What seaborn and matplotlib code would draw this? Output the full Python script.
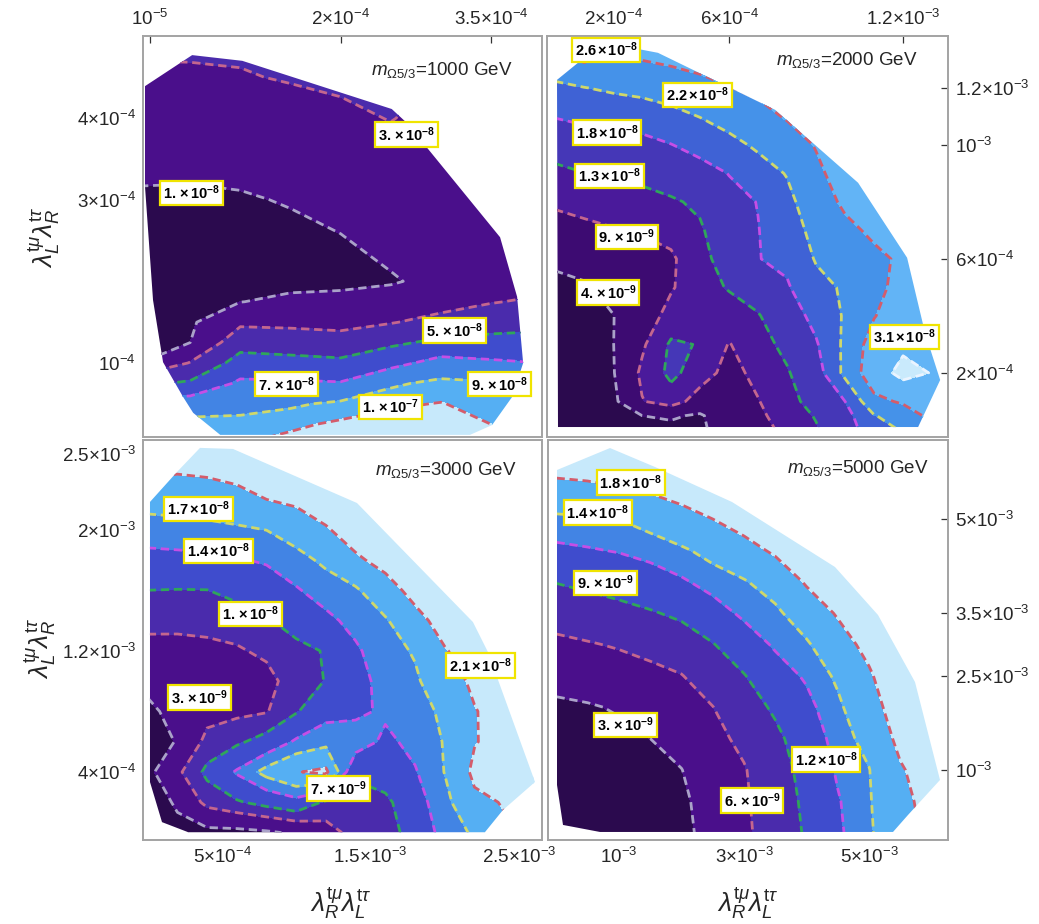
import numpy as np
import matplotlib
matplotlib.use("Agg")
import matplotlib.pyplot as plt
import seaborn as sns
from matplotlib.patches import Polygon

# ------------------------------------------------------------------ data
# ---- top-left panel: m = 1000 GeV, values in units of 1e-8
tl_x = [0, 5e-5, 1e-4, 1.5e-4, 2e-4, 2.5e-4, 3e-4, 3.5e-4, 4e-4]
tl_y = [5e-4, 4.5e-4, 4e-4, 3.5e-4, 3e-4, 2.5e-4, 2e-4, 1.75e-4, 1.5e-4,
        1.25e-4, 1e-4, 7.5e-5, 5e-5, 2.5e-5, 0]          # top -> bottom
tl_z = [  # one list per x column, top -> bottom
    [3.3, 2.8, 2.3, 1.4, 0.8, 0.5, 0.5, 0.6, 0.7, 0.85, 1.0, 4.6, 8.0, 9.5, 10.0],
    [3.4, 2.77, 2.04, 1.32, 0.8, 0.5, 0.45, 0.6, 0.75, 1.0, 3.1, 5.3, 8.07, 9.5, 9.9],
    [3.3, 2.91, 2.21, 1.51, 0.85, 0.45, 0.5, 0.97, 2.64, 4.26, 5.8, 7.34, 8.49, 9.4, 10.0],
    [3.5, 3.1, 2.46, 1.79, 1.11, 0.6, 0.6, 1.31, 2.56, 4.06, 5.6, 7.26, 8.77, 9.78, 10.4],
    [3.6, 3.25, 2.73, 2.11, 1.5, 0.9, 0.7, 1.37, 2.42, 3.8, 5.4, 7.14, 9.3, 10.2, 10.6],
    [3.7, 3.4, 3.05, 2.51, 1.98, 1.46, 0.85, 1.74, 2.89, 4.65, 6.39, 8.75, 9.84, 10.4, 10.6],
    [2.9, 2.8, 2.6, 2.3, 2.0, 1.7, 1.45, 2.3, 3.58, 5.42, 7.71, 9.39, 10.05, 10.5, 10.8],
    [2.9, 2.8, 2.7, 2.5, 2.2, 2.0, 1.9, 2.9, 4.16, 5.62, 7.29, 9.18, 9.58, 10.0, 10.3],
    [2.9, 2.8, 2.7, 2.6, 2.4, 2.2, 2.3, 3.3, 4.4, 5.7, 7.0, 9.3, 9.6, 9.9, 10.2],
]
tl_levels = [1, 3, 5, 7, 9, 10]
tl_hull_x = [5e-6, 5.2e-5, 1.02e-4, 2.51e-4, 2.66e-4, 3.59e-4, 3.76e-4, 3.82e-4,
             3.71e-4, 3.51e-4, 3.29e-4, 8.0e-5, 5.3e-5, 4.3e-5, 2.3e-5, 1.3e-5, 5e-6]
tl_hull_y = [4.39e-4, 4.77e-4, 4.70e-4, 4.11e-4, 3.94e-4, 2.54e-4, 1.81e-4, 1.0e-4,
             5.84e-5, 2.4e-5, 1.2e-5, 1.2e-5, 3.9e-5, 5.84e-5, 1.01e-4, 1.77e-4, 3.16e-4]
tl_lab_mant = ["3.", "1.", "5.", "7.", "9.", "1."]
tl_lab_exp = [-8, -8, -8, -8, -8, -7]
tl_lab_x = [2.66e-4, 5.16e-5, 3.14e-4, 1.46e-4, 3.58e-4, 2.50e-4]
tl_lab_y = [3.80e-4, 3.08e-4, 1.40e-4, 7.4e-5, 7.4e-5, 4.6e-5]

# ---- top-right panel: m = 2000 GeV, units of 1e-9
tr_x = [0, 1e-4, 2e-4, 3e-4, 4e-4, 5e-4, 6e-4, 7e-4, 8e-4, 9e-4, 1e-3,
        1.1e-3, 1.2e-3, 1.3e-3, 1.4e-3]
tr_y = [1.4e-3, 1.3e-3, 1.2e-3, 1.1e-3, 1e-3, 9e-4, 8e-4, 7e-4, 6e-4, 5e-4,
        4e-4, 3e-4, 2e-4, 1e-4, 5e-5, 0]
tr_z = [
    [28, 24.7, 21.2, 18.2, 14.9, 12.0, 9.7, 7.1, 4.5, 3.3, 2.7, 2.2, 1.8, 1.5, 1.4, 1.3],
    [28, 26.5, 21.9, 18.9, 15.9, 12.9, 10.4, 8.0, 5.65, 3.5, 2.8, 2.3, 2.0, 1.8, 1.7, 1.6],
    [28, 26.0, 22.6, 19.4, 16.4, 13.5, 11.0, 8.75, 7.0, 5.26, 3.9, 3.9, 3.7, 3.0, 2.7, 2.5],
    [28, 26.1, 23.1, 19.9, 16.8, 14.1, 11.6, 9.3, 7.5, 6.5, 6.5, 8.3, 9.8, 8.8, 4.0, 3.5],
    [28.5, 26.7, 23.8, 20.9, 17.9, 15.1, 12.5, 10.45, 8.3, 8.6, 10.5, 13.6, 14.0, 11.0, 4.5, 3.0],
    [28.5, 27.2, 24.9, 22.1, 19.3, 16.5, 13.7, 12.5, 12.0, 11.5, 11.8, 12.8, 11.0, 7.0, 3.5, 3.0],
    [28.8, 27.5, 25.9, 23.5, 20.9, 18.1, 16.9, 15.7, 14.5, 13.3, 11.2, 8.8, 7.5, 7.0, 6.8, 6.8],
    [29.0, 27.7, 26.7, 24.9, 22.6, 20.4, 18.1, 17.9, 17.9, 15.0, 12.7, 11.4, 10.2, 8.8, 8.2, 7.5],
    [29.2, 28.0, 27.0, 26.3, 24.4, 22.2, 21.0, 19.9, 18.8, 17.6, 15.9, 14.1, 12.6, 11.8, 10.8, 10.0],
    [29.4, 28.3, 27.5, 26.8, 26.2, 25.3, 24.3, 23.3, 22.3, 20.8, 19.2, 17.6, 16.2, 14.4, 13.3, 12.6],
    [30, 29.5, 29, 28.5, 28, 27.5, 26.6, 25.2, 23.8, 22.5, 22.4, 22.8, 23.0, 18.0, 16.5, 15.8],
    [30.5, 30, 29.5, 29, 28.5, 28, 27.5, 26.6, 25.3, 24.5, 25.8, 27.8, 28.5, 25.0, 21.8, 20.5],
    [30.5, 30.5, 30.3, 30, 29.8, 29.5, 29, 28.5, 26.5, 27.8, 28.5, 30.0, 32.5, 26.5, 24.0, 22.3],
    [30.5, 30.5, 30.5, 30.3, 30, 29.8, 29.5, 29, 28.5, 28.5, 29, 30, 30.8, 28, 27, 26],
    [30.5, 30.5, 30.5, 30.3, 30, 29.8, 29.5, 29, 28.5, 28.5, 28.8, 29.5, 29.8, 27.5, 26.5, 25.5],
]
tr_levels = [4, 9, 13, 18, 22, 26, 31]
tr_hull_x = [6.9e-6, 7.93e-5, 2.83e-4, 3.55e-4, 7.59e-4, 1.045e-3, 1.214e-3,
             1.276e-3, 1.328e-3, 1.252e-3, 1.03e-5]
tr_hull_y = [1.228e-3, 1.288e-3, 1.337e-3, 1.323e-3, 1.123e-3, 8.67e-4, 6.04e-4,
             3.40e-4, 1.75e-4, 1.0e-5, 1.0e-5]
tr_lab_mant = ["2.6", "2.2", "1.8", "1.3", "9.", "4.", "3.1"]
tr_lab_exp = [-8, -8, -8, -8, -9, -9, -8]
tr_lab_x = [1.76e-4, 4.91e-4, 1.79e-4, 1.88e-4, 2.48e-4, 1.83e-4, 1.204e-3]
tr_lab_y = [1.333e-3, 1.175e-3, 1.044e-3, 8.91e-4, 6.77e-4, 4.82e-4, 3.26e-4]

# ---- bottom-left panel: m = 3000 GeV, units of 1e-9
bl_x = [0, 2e-4, 4e-4, 6e-4, 8e-4, 1e-3, 1.2e-3, 1.4e-3, 1.6e-3, 1.8e-3,
        2e-3, 2.2e-3, 2.4e-3, 2.6e-3]
bl_y = [2.6e-3, 2.4e-3, 2.2e-3, 2e-3, 1.8e-3, 1.6e-3, 1.4e-3, 1.2e-3, 1e-3,
        8e-4, 6e-4, 4e-4, 2e-4, 0]
bl_z = [
    [23, 22, 18.4, 15.5, 13, 10, 7.9, 5.9, 4.0, 2.2, 2.2, 2.0, 1.8, 1.6],
    [23, 21.5, 18.5, 15.8, 13.1, 9.9, 7.8, 6.0, 5.0, 4.2, 3.1, 6.3, 3.3, 2.4],
    [23, 21.8, 18.9, 16.1, 13.3, 9.95, 8.0, 6.2, 5.3, 5.8, 8.0, 10.8, 8.0, 2.0],
    [23, 22.5, 19.6, 16.5, 13.7, 10.9, 8.6, 6.6, 5.5, 6.3, 9.4, 14.4, 9.6, 2.0],
    [24, 23.0, 21.0, 17.05, 14.4, 12.0, 9.7, 7.7, 5.8, 6.8, 11.4, 18.2, 11.2, 2.5],
    [24, 23, 21.8, 18.6, 15.9, 13.7, 11.2, 9.2, 8.8, 9.7, 14.5, 20.8, 12.8, 3.5],
    [24.5, 23.8, 22.8, 20.7, 17.7, 15.4, 13.2, 10.2, 10.1, 12.8, 16.0, 21.8, 9.4, 5.5],
    [25, 24.5, 23.5, 22.5, 20.5, 16.5, 15.0, 13.5, 12.7, 13.2, 16.0, 10.5, 8.8, 8.3],
    [25, 24.5, 24, 23.3, 22, 19.7, 16.6, 15.8, 15.2, 14.6, 13.2, 11.8, 9.2, 8.5],
    [25, 24.8, 24.2, 23.6, 22.8, 22.0, 20.0, 17.3, 16.5, 15.8, 15.0, 13.7, 12.5, 11.5],
    [25, 25, 24.8, 24.4, 24, 23.2, 22.2, 20.8, 19.2, 17.6, 17.2, 17.1, 16.0, 15.2],
    [24.5, 24.5, 24.5, 24.3, 24, 23.5, 23, 22.4, 21.7, 20.8, 20.8, 21.8, 20.2, 17.5],
    [24.5, 24.5, 24.5, 24.3, 24.2, 24, 23.8, 23.5, 23, 22.5, 22.3, 22.2, 21.2, 20.5],
    [24.5, 24.5, 24.5, 24.5, 24.3, 24.2, 24, 23.8, 23.5, 23, 22.8, 22.5, 22, 21.5],
]
bl_levels = [3, 7, 10, 14, 17, 21]
bl_hull_x = [3.52e-4, 5.74e-4, 1.409e-3, 2.19e-3, 2.291e-3, 2.608e-3, 2.392e-3,
             2.271e-3, 2.71e-4, 9.6e-5, 1.5e-5, 1.5e-5, 1.97e-4]
bl_hull_y = [2.54e-3, 2.533e-3, 2.176e-3, 1.39e-3, 1.192e-3, 3.34e-4, 1.49e-4,
             3e-6, 3e-6, 6.9e-5, 3.34e-4, 2.183e-3, 2.381e-3]
bl_lab_mant = ["1.7", "1.4", "1.", "3.", "2.1", "7."]
bl_lab_exp = [-8, -8, -8, -9, -8, -9]
bl_lab_x = [3.4e-4, 4.75e-4, 6.89e-4, 3.5e-4, 2.241e-3, 1.287e-3]
bl_lab_y = [2.138e-3, 1.858e-3, 1.442e-3, 8.92e-4, 1.103e-3, 2.92e-4]

# ---- bottom-right panel: m = 5000 GeV, units of 1e-9
br_x = [0, 5e-4, 1e-3, 1.5e-3, 2e-3, 2.5e-3, 3e-3, 3.5e-3, 4e-3, 4.5e-3,
        5e-3, 5.5e-3, 6e-3, 6.5e-3]
br_y = [6.5e-3, 6e-3, 5.5e-3, 5e-3, 4.5e-3, 4e-3, 3.5e-3, 3e-3, 2.5e-3,
        2e-3, 1.5e-3, 1e-3, 5e-4, 0]
br_z = [
    [21.5, 20.75, 16.8, 13.45, 11.5, 9.1, 7.2, 5.4, 3.8, 2.6, 2.2, 1.9, 1.7, 1.6],
    [21.5, 21.0, 17.2, 13.7, 11.8, 9.6, 7.7, 5.8, 4.2, 2.8, 2.3, 2.0, 1.8, 1.7],
    [22, 21.7, 17.9, 14.03, 12.16, 10.1, 8.2, 6.25, 4.7, 3.2, 2.5, 2.1, 1.9, 1.8],
    [22, 20.5, 18.7, 15.0, 12.76, 10.8, 8.77, 6.8, 5.3, 4.15, 3.0, 2.4, 2.1, 2.0],
    [22, 21, 19.8, 16.5, 13.6, 11.7, 9.5, 7.6, 5.9, 4.9, 3.9, 2.95, 2.5, 2.3],
    [22, 21.5, 20.5, 18.0, 14.9, 12.8, 11.0, 8.86, 7.4, 5.95, 5.2, 4.6, 4.2, 4.0],
    [22, 21.5, 20.5, 19.65, 16.6, 13.76, 12.43, 10.7, 8.86, 7.77, 6.65, 5.8, 5.6, 5.5],
    [22, 21.5, 21, 20.5, 18.6, 15.4, 13.4, 12.3, 10.9, 9.4, 8.4, 7.9, 7.6, 7.3],
    [22, 21.5, 21, 20.5, 20.3, 18.4, 15.8, 13.6, 12.3, 11.3, 10.4, 9.8, 9.5, 9.3],
    [22, 21.8, 21.5, 21.2, 21, 20.6, 18.35, 16.4, 14.45, 13.5, 12.9, 12.3, 11.8, 11.6],
    [22, 22, 21.8, 21.6, 21.5, 21, 20.3, 19.1, 17.5, 16.2, 14.9, 13.9, 13.75, 13.6],
    [22, 22, 22, 21.8, 21.7, 21.6, 21.5, 21.5, 21, 20.2, 19, 17.6, 16.8, 16.4],
    [22, 22, 22, 22, 22, 21.8, 21.6, 21.5, 21.3, 21, 20.5, 20, 19.5, 19],
    [22, 22, 22, 22, 22, 22, 21.8, 21.6, 21.5, 21.3, 21, 20.6, 20.2, 19.8],
]
br_levels = [3, 6, 9, 12, 14, 18]
br_hull_x = [8e-6, 8.56e-4, 1.576e-3, 2.808e-3, 4.456e-3, 5.144e-3, 5.736e-3,
             6.136e-3, 5.624e-3, 5.384e-3, 6.96e-4, 1.04e-4, 8e-6]
br_hull_y = [5.781e-3, 6.131e-3, 5.829e-3, 5.271e-3, 4.235e-3, 3.47e-3, 2.402e-3,
             8.41e-4, 2.83e-4, 1.2e-5, 1.2e-5, 1.24e-4, 7.61e-4]
br_lab_mant = ["1.8", "1.4", "9.", "3.", "1.2", "6."]
br_lab_exp = [-8, -8, -9, -9, -8, -9]
br_lab_x = [1.189e-3, 6.61e-4, 7.81e-4, 1.104e-3, 4.315e-3, 3.128e-3]
br_lab_y = [5.582e-3, 5.104e-3, 3.977e-3, 1.717e-3, 1.167e-3, 5.14e-4]

masses = ["1000", "2000", "3000", "5000"]

# colours
fill7 = ["#2b0a4e", "#4a0f8b", "#4a2bac", "#3f4ccd", "#4284e4", "#55aff3", "#c7e9fb"]
fill8 = ["#2b0a4e", "#3d0b72", "#4a1a9b", "#4537b7", "#3f62d5", "#4592e9", "#62b4f6", "#c9eafc"]
line_cols = ["#aaa2c9", "#c4668e", "#2fa65a", "#c64ee6", "#cfd86a", "#d45c6b", "#eaf4ff"]

# ------------------------------------------------------------------ style
sns.set_theme(style="white")
plt.rcParams.update({
    "font.family": ["Liberation Sans", "DejaVu Sans"],
    "mathtext.fontset": "custom",
    "mathtext.rm": "Liberation Sans",
    "mathtext.it": "Liberation Sans:italic",
    "mathtext.bf": "Liberation Sans:bold",
})

fig = plt.figure(figsize=(10.39, 9.24), dpi=100)
W, H = 1039.0, 924.0


def add_axes(x0, y0, x1, y1):
    return fig.add_axes([x0 / W, 1 - y1 / H, (x1 - x0) / W, (y1 - y0) / H])


ax_tl = add_axes(143, 36, 542, 437)
ax_tr = add_axes(547, 36, 948, 437)
ax_bl = add_axes(143, 440, 542, 840)
ax_br = add_axes(548, 440, 948, 840)


def sci(txt):
    return r"$%s$" % txt


def panel(ax, xs, ys, zc, levels, fills, hx, hy, lm, le, lx, ly, mass,
          xlim, ylim, title_pos):
    X, Y = np.meshgrid(np.array(xs), np.array(ys)[::-1])
    Z = np.array(zc, dtype=float).T[::-1]
    lev = [Z.min() - 1] + list(levels) + [Z.max() + 1]
    poly = Polygon(np.column_stack([hx, hy]), closed=True, transform=ax.transData,
                   facecolor="none", edgecolor="none")
    cf = ax.contourf(X, Y, Z, levels=lev, colors=fills, zorder=1)
    cf.set_edgecolor("face")
    cf.set_linewidth(0.4)
    cf.set_clip_path(poly)
    cl = ax.contour(X, Y, Z, levels=levels, colors=line_cols[:len(levels)],
                    linewidths=2.0, linestyles=[(0, (3.0, 1.7))], zorder=2)
    cl.set_clip_path(poly)
    for m, e, x, y in zip(lm, le, lx, ly):
        ax.text(x, y, r"$\mathbf{%s\,{\times}\,10^{%d}}$" % (m, e), ha="center",
                va="center", fontsize=10.5, color="black", zorder=6,
                bbox=dict(boxstyle="square,pad=0.2", fc="white", ec="#f0e400", lw=1.6))
    ax.text(title_pos[0], title_pos[1], r"$m_{\Omega 5/3}$=%s GeV" % mass,
            transform=ax.transAxes, ha="right", va="center", fontsize=13.5, zorder=6)
    ax.set_xlim(*xlim)
    ax.set_ylim(*ylim)
    for s in ax.spines.values():
        s.set_color("#a3a3a3")
        s.set_linewidth(1.4)
    ax.tick_params(direction="in", length=5, width=0.9, color="#333333",
                   labelsize=13.5, pad=5)
    ax.set_facecolor("white")


panel(ax_tl, tl_x, tl_y, tl_z, tl_levels, fill7, tl_hull_x, tl_hull_y,
      tl_lab_mant, tl_lab_exp, tl_lab_x, tl_lab_y, masses[0],
      (3.0e-6, 4.008e-4), (9.4e-6, 5.004e-4), (0.927, 0.915))
panel(ax_tr, tr_x, tr_y, tr_z, tr_levels, fill8, tr_hull_x, tr_hull_y,
      tr_lab_mant, tr_lab_exp, tr_lab_x, tr_lab_y, masses[1],
      (-2.76e-5, 1.355e-3), (-2.5e-5, 1.382e-3), (0.923, 0.94))
panel(ax_bl, bl_x, bl_y, bl_z, bl_levels, fill7, bl_hull_x, bl_hull_y,
      bl_lab_mant, bl_lab_exp, bl_lab_x, bl_lab_y, masses[2],
      (-3.2e-5, 2.655e-3), (-4.9e-5, 2.592e-3), (0.937, 0.925))
panel(ax_br, br_x, br_y, br_z, br_levels, fill7, br_hull_x, br_hull_y,
      br_lab_mant, br_lab_exp, br_lab_x, br_lab_y, masses[3],
      (-1.36e-4, 6.264e-3), (-1.16e-4, 6.259e-3), (0.95, 0.93))

# ticks
ax_tl.xaxis.tick_top()
ax_tl.set_xticks([1e-5, 2e-4, 3.5e-4], [sci("10^{-5}"), sci(r"2{\times}10^{-4}"), sci(r"3.5{\times}10^{-4}")])
ax_tl.set_yticks([1e-4, 3e-4, 4e-4], [sci("10^{-4}"), sci(r"3{\times}10^{-4}"), sci(r"4{\times}10^{-4}")])

ax_tr.xaxis.tick_top()
ax_tr.yaxis.tick_right()
ax_tr.set_xticks([2e-4, 6e-4, 1.2e-3], [sci(r"2{\times}10^{-4}"), sci(r"6{\times}10^{-4}"), sci(r"1.2{\times}10^{-3}")])
ax_tr.set_yticks([2e-4, 6e-4, 1e-3, 1.2e-3], [sci(r"2{\times}10^{-4}"), sci(r"6{\times}10^{-4}"),
                                              sci("10^{-3}"), sci(r"1.2{\times}10^{-3}")])

ax_bl.set_xticks([5e-4, 1.5e-3, 2.5e-3], [sci(r"5{\times}10^{-4}"), sci(r"1.5{\times}10^{-3}"), sci(r"2.5{\times}10^{-3}")])
ax_bl.set_yticks([4e-4, 1.2e-3, 2e-3, 2.5e-3], [sci(r"4{\times}10^{-4}"), sci(r"1.2{\times}10^{-3}"),
                                               sci(r"2{\times}10^{-3}"), sci(r"2.5{\times}10^{-3}")])

ax_br.yaxis.tick_right()
ax_br.set_xticks([1e-3, 3e-3, 5e-3], [sci("10^{-3}"), sci(r"3{\times}10^{-3}"), sci(r"5{\times}10^{-3}")])
ax_br.set_yticks([1e-3, 2.5e-3, 3.5e-3, 5e-3], [sci("10^{-3}"), sci(r"2.5{\times}10^{-3}"),
                                               sci(r"3.5{\times}10^{-3}"), sci(r"5{\times}10^{-3}")])

ylab = r"$\lambda_{L}^{\mathrm{t}\mu}\lambda_{R}^{\mathrm{t}\tau}$"
xlab = r"$\lambda_{R}^{\mathrm{t}\mu}\lambda_{L}^{\mathrm{t}\tau}$"
fig.text(44 / W, 1 - 237 / H, ylab, rotation=90, ha="center", va="center", fontsize=19)
fig.text(40 / W, 1 - 648 / H, ylab, rotation=90, ha="center", va="center", fontsize=19)
fig.text(341 / W, 1 - 903 / H, xlab, ha="center", va="center", fontsize=19)
fig.text(748 / W, 1 - 903 / H, xlab, ha="center", va="center", fontsize=19)

fig.savefig("out.png", dpi=100, facecolor="white")
